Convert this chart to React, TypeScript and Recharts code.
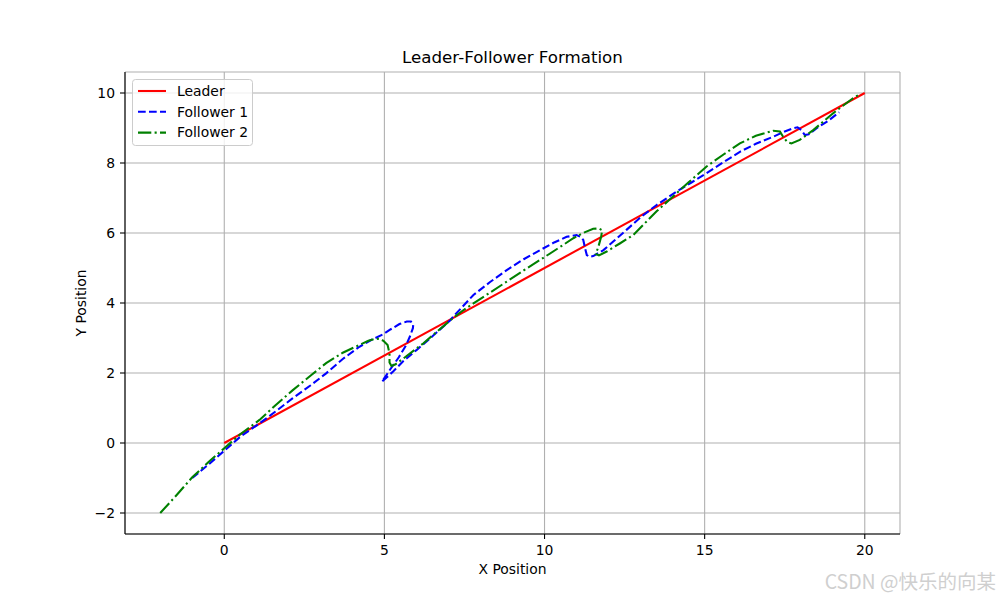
import { LineChart, Line, XAxis, YAxis, CartesianGrid } from 'recharts';

const FONT = '"DejaVu Sans", sans-serif';

const X_TICKS = [0, 5, 10, 15, 20];
const Y_TICKS = [-2, 0, 2, 4, 6, 8, 10];

const SERIES_NAMES = ['Leader', 'Follower 1', 'Follower 2'];
const SERIES_COLORS = ['#ff0000', '#0000ff', '#008000'];
const SERIES_DASH = ['', '7.7 3.3', '13.3 3.3 2.1 3.3'];

const leaderX = [0, 20];
const leaderY = [0, 10];

const follower1X = [
  -1.0, -0.5, 0, 0.5, 1.1, 1.6, 2.14, 2.7, 3.18, 3.7, 4.22, 4.6, 4.95, 5.2, 5.47, 5.7, 5.83, 5.9,
  5.89, 5.8, 5.68, 5.45, 5.18, 4.92, 5.28, 5.6, 6.01, 6.5, 7.05, 7.15, 7.78, 8.3, 8.82, 9.35, 9.86,
  10.3, 10.69, 11.0, 11.15, 11.21, 11.27, 11.32, 11.4, 11.52, 11.84, 12.2, 12.56, 13.0, 13.5, 14.12,
  14.6, 15.06, 15.6, 16.1, 16.6, 17.14, 17.5, 17.76, 17.9, 18.02, 18.13, 18.25, 18.49, 18.85, 19.2,
];
const follower1Y = [
  -1.0, -0.62, -0.22, 0.18, 0.56, 0.9, 1.28, 1.65, 1.99, 2.4, 2.75, 2.95, 3.1, 3.25, 3.4, 3.47, 3.47,
  3.38, 3.28, 3.05, 2.8, 2.45, 2.1, 1.75, 2.05, 2.35, 2.66, 3.05, 3.5, 3.61, 4.23, 4.6, 4.94, 5.25,
  5.51, 5.73, 5.89, 5.94, 5.88, 5.8, 5.55, 5.37, 5.32, 5.34, 5.51, 5.8, 6.09, 6.45, 6.8, 7.18, 7.45,
  7.71, 8.03, 8.32, 8.55, 8.75, 8.9, 8.99, 9.02, 8.94, 8.8, 8.82, 8.99, 9.2, 9.45,
];

const follower2X = [
  -2, -1.5, -1, -0.5, 0, 0.5, 1.1, 1.6, 2.14, 2.7, 3.18, 3.7, 4.22, 4.5, 4.69, 4.85, 4.97, 5.1, 5.16,
  5.16, 5.22, 5.35, 5.6, 6.22, 6.6, 7.05, 7.4, 7.78, 8.3, 8.82, 9.35, 9.86, 10.4, 10.9, 11.2, 11.52,
  11.7, 11.8, 11.77, 11.68, 11.6, 11.7, 11.94, 12.35, 12.77, 13.1, 13.5, 13.9, 14.5, 15.06, 15.6,
  16.1, 16.6, 17.14, 17.35, 17.45, 17.58, 17.71, 17.97, 18.39, 19.01, 19.63, 19.85,
];
const follower2Y = [
  -2, -1.5, -0.98, -0.55, -0.15, 0.25, 0.66, 1.08, 1.51, 1.93, 2.28, 2.58, 2.8, 2.92, 2.97, 2.98,
  2.92, 2.8, 2.56, 2.3, 2.2, 2.25, 2.42, 2.85, 3.15, 3.5, 3.75, 3.99, 4.3, 4.61, 4.93, 5.23, 5.55,
  5.85, 6.0, 6.12, 6.13, 6.08, 5.9, 5.6, 5.4, 5.36, 5.47, 5.7, 5.94, 6.25, 6.62, 6.95, 7.45, 7.9,
  8.25, 8.56, 8.78, 8.92, 8.9, 8.75, 8.6, 8.56, 8.66, 8.94, 9.42, 9.85, 9.97,
];

const zip = (xs: number[], ys: number[]) => xs.map((x, i) => ({ x, y: ys[i] }));

const seriesData = [
  zip(leaderX, leaderY),
  zip(follower1X, follower1Y),
  zip(follower2X, follower2Y),
];

const fmt = (v: number) => String(v).replace('-', '\u2212');

const tickStyle = { fill: '#000', fontSize: 13.9, fontFamily: FONT };

function LegendBox() {
  return (
    <svg
      width={124}
      height={70}
      style={{ position: 'absolute', left: 131, top: 78, overflow: 'visible' }}
    >
      <rect x={1.5} y={1.5} width={120} height={66} rx={3} fill="#ffffff" fillOpacity={0.8} stroke="#cccccc" strokeWidth={1} />
      {SERIES_NAMES.map((name, i) => (
        <g key={name}>
          <line
            x1={7}
            x2={35}
            y1={13 + i * 20.8}
            y2={13 + i * 20.8}
            stroke={SERIES_COLORS[i]}
            strokeWidth={2.08}
            strokeDasharray={SERIES_DASH[i] || undefined}
          />
          <text x={46} y={13 + i * 20.8} dy="0.35em" fontSize={13.9} fontFamily={FONT} fill="#000">
            {name}
          </text>
        </g>
      ))}
    </svg>
  );
}

export default function App() {
  return (
    <div style={{ position: 'absolute', left: 0, top: 0, width: 1000, height: 600, background: '#fff', fontFamily: FONT }}>
      <LineChart width={1000} height={600} margin={{ top: 72, right: 100, bottom: 36, left: 0 }}>
        <CartesianGrid stroke="#b0b0b0" strokeWidth={1.1} />
        <XAxis
          dataKey="x"
          type="number"
          domain={[-3.1, 21.1]}
          ticks={X_TICKS}
          allowDataOverflow
          height={30}
          tickSize={5}
          tickMargin={6}
          tickFormatter={fmt}
          tick={tickStyle}
          stroke="#000"
          strokeWidth={1.1}
          tickLine={{ stroke: '#000', strokeWidth: 1.1 }}
        />
        <XAxis xAxisId="top" orientation="top" type="number" domain={[-3.1, 21.1]} height={0} tick={false} tickLine={false} stroke="#000" strokeWidth={1.1} />
        <YAxis
          type="number"
          domain={[-2.6, 10.6]}
          ticks={Y_TICKS}
          allowDataOverflow
          width={125}
          tickSize={5}
          tickMargin={5}
          tickFormatter={fmt}
          tick={tickStyle}
          stroke="#000"
          strokeWidth={1.1}
          tickLine={{ stroke: '#000', strokeWidth: 1.1 }}
        />
        <YAxis yAxisId="right" orientation="right" type="number" domain={[-2.6, 10.6]} width={0} tick={false} tickLine={false} stroke="#000" strokeWidth={1.1} />
        {seriesData.map((data, i) => (
          <Line
            key={SERIES_NAMES[i]}
            data={data}
            dataKey="y"
            name={SERIES_NAMES[i]}
            type="linear"
            stroke={SERIES_COLORS[i]}
            strokeWidth={2.08}
            strokeDasharray={SERIES_DASH[i] || undefined}
            dot={false}
            activeDot={false}
            isAnimationActive={false}
          />
        ))}
      </LineChart>
      <div style={{ position: 'absolute', left: 125, width: 775, top: 47, height: 22, lineHeight: '22px', textAlign: 'center', fontSize: 16.67, color: '#000' }}>
        Leader-Follower Formation
      </div>
      <div style={{ position: 'absolute', left: 125, width: 775, top: 559, height: 20, lineHeight: '20px', textAlign: 'center', fontSize: 13.9, color: '#000' }}>
        X Position
      </div>
      <div
        style={{
          position: 'absolute',
          left: 81,
          top: 303,
          fontSize: 13.9,
          lineHeight: '20px',
          whiteSpace: 'nowrap',
          color: '#000',
          transform: 'translate(-50%, -50%) rotate(-90deg)',
        }}
      >
        Y Position
      </div>
      <LegendBox />
      <div
        style={{
          position: 'absolute',
          right: 4,
          top: 569,
          fontSize: 19.5,
          lineHeight: '24px',
          color: '#cfcfcf',
          fontFamily: '"Noto Sans CJK SC", "DejaVu Sans", sans-serif',
          whiteSpace: 'nowrap',
        }}
      >
        CSDN @快乐的向某
      </div>
    </div>
  );
}
